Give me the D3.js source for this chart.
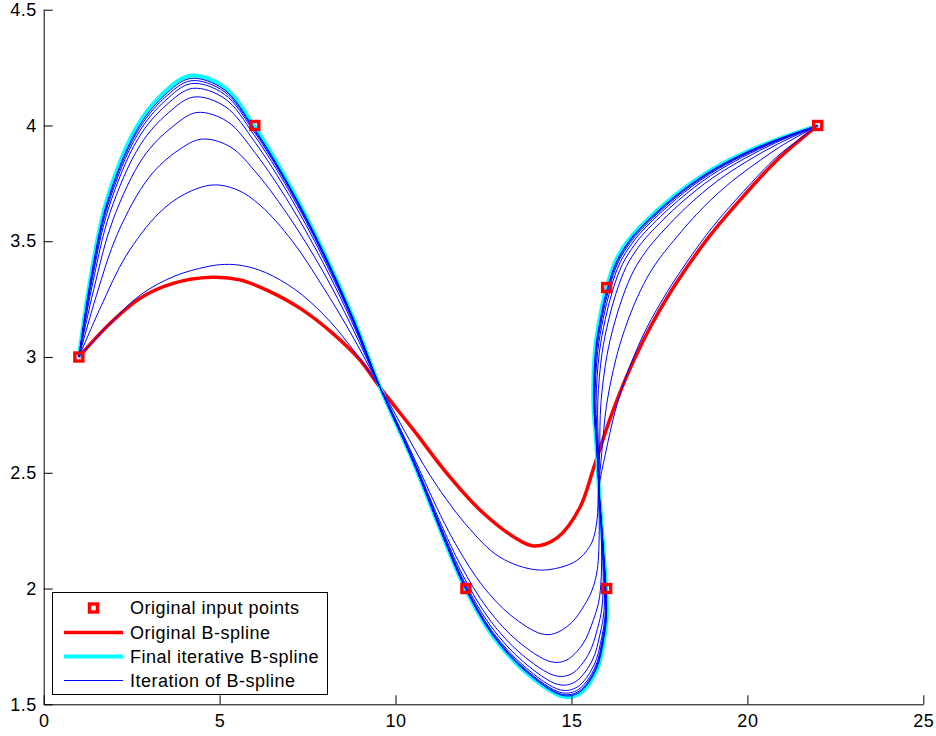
<!DOCTYPE html>
<html><head><meta charset="utf-8">
<script src="https://cdn.jsdelivr.net/npm/d3@7"></script>
<style>
body{margin:0;background:#fff}
svg{display:block}
text{font-family:"Liberation Sans",Arial,Helvetica,sans-serif}
</style>
</head><body>
<svg id="chart" width="936" height="736"></svg>
<script>
// ---------------- data ----------------
const inputX = [1, 6, 12, 16, 16, 22];
const inputY = [3, 4, 2, 2, 3.3, 4];

const xTicks = [0, 5, 10, 15, 20, 25];
const yTicks = [1.5, 2, 2.5, 3, 3.5, 4, 4.5];

const legendLabels = ["Original input points", "Original B-spline", "Final iterative B-spline", "Iteration of B-spline"];

const originalSpline = [[1,3],[1.79,3.131],[2.74,3.254],[3.68,3.318],[4.78,3.344],[5.58,3.333],[6.34,3.289],[7.29,3.21],[8.23,3.10],[8.99,2.987],[9.6,2.86],[10.51,2.685],[11.46,2.497],[12.40,2.339],[13.35,2.224],[13.92,2.184],[14.6,2.22],[15.24,2.35],[15.65,2.53],[16.1,2.735],[16.55,2.91],[17.04,3.07],[17.5,3.20],[17.99,3.322],[18.94,3.525],[19.89,3.695],[20.84,3.85],[22,4]];

const finalSpline = [[1,3],[1.316,3.328],[1.779,3.670],[2.624,3.989],[3.40,4.139],[4.16,4.215],[5.11,4.168],[5.97,4.0],[6.96,3.75],[7.925,3.464],[8.79,3.171],[9.57,2.865],[10.506,2.546],[11.455,2.184],[11.976,2.001],[12.78,1.792],[13.73,1.634],[14.761,1.533],[15.245,1.547],[15.719,1.648],[15.926,1.778],[16.003,1.878],[15.983,2.001],[15.89,2.209],[15.779,2.434],[15.717,2.598],[15.621,2.814],[15.669,3.030],[15.811,3.174],[15.999,3.300],[16.266,3.4185],[16.604,3.501],[16.928,3.559],[17.895,3.693],[18.844,3.796],[19.79,3.873],[20.737,3.934],[21.686,3.984],[22,4]];

const iter1 = [[1,3],[1.856,3.140],[2.746,3.268],[3.732,3.350],[4.64,3.39],[5.15,3.40],[5.67,3.394],[6.30,3.365],[7.15,3.291],[7.967,3.181],[8.67,3.056],[9.57,2.865],[10.269,2.6765],[10.979,2.4895],[11.974,2.2813],[12.969,2.1353],[14.021,2.0805],[14.817,2.0973],[15.243,2.1318],[15.584,2.201],[15.726,2.296],[15.779,2.434],[15.961,2.579],[16.25,2.77],[16.55,2.915],[17.04,3.095],[17.5,3.225],[17.99,3.345],[18.94,3.548],[19.89,3.715],[20.84,3.865],[21.5,3.943],[22,4]];

const iter2 = [[1,3],[1.63,3.219],[2.34,3.437],[3.267,3.62],[4.0,3.703],[4.8,3.743],[5.5,3.722],[6.157,3.655],[7.07,3.50],[7.949,3.30],[8.72,3.105],[9.57,2.865],[10.385,2.61],[11.267,2.32],[11.768,2.176],[12.483,2.01],[13.279,1.884],[14.131,1.805],[14.527,1.806],[15.006,1.853],[15.363,1.927],[15.586,1.993],[15.734,2.082],[15.79,2.249],[15.779,2.434],[15.863,2.588],[15.995,2.789],[16.258,2.988],[16.513,3.119],[16.797,3.232],[17.133,3.338],[17.456,3.416],[17.74,3.472],[18.55,3.615],[19.348,3.732],[20.129,3.824],[20.915,3.907],[21.733,3.978],[22,4]];

const iter3 = [[1,3],[1.497,3.265],[2.104,3.535],[2.996,3.776],[3.817,3.892],[4.493,3.941],[5.298,3.908],[6.074,3.790],[7.024,3.594],[7.939,3.369],[8.75,3.133],[9.57,2.865],[10.439,2.582],[11.351,2.259],[11.861,2.098],[12.616,1.913],[13.48,1.772],[14.413,1.684],[14.848,1.69],[15.325,1.761],[15.615,1.861],[15.772,1.941],[15.845,2.046],[15.847,2.231],[15.779,2.434],[15.801,2.592],[15.837,2.80],[16.008,3.006],[16.215,3.142],[16.459,3.261],[16.765,3.372],[17.095,3.452],[17.396,3.509],[18.273,3.648],[19.135,3.759],[19.985,3.845],[20.839,3.918],[21.713,3.98],[22,4]];

const iter4 = [[1,3],[1.421,3.291],[1.968,3.592],[2.840,3.865],[3.642,3.992],[4.353,4.056],[5.219,4.017],[6.026,3.878],[6.997,3.660],[7.933,3.409],[8.767,3.149],[9.57,2.865],[10.466,2.567],[11.393,2.229],[11.907,2.059],[12.682,1.864],[13.581,1.716],[14.553,1.623],[15.008,1.632],[15.484,1.716],[15.74,1.827],[15.865,1.916],[15.901,2.028],[15.865,2.222],[15.779,2.434],[15.766,2.595],[15.748,2.806],[15.869,3.016],[16.049,3.155],[16.27,3.277],[16.56,3.391],[16.893,3.472],[17.203,3.530],[18.117,3.666],[19.015,3.774],[19.905,3.856],[20.797,3.925],[21.702,3.982],[22,4]];

const iter5 = [[1,3],[1.377,3.307],[1.888,3.625],[2.749,3.917],[3.54,4.054],[4.272,4.123],[5.173,4.080],[5.998,3.929],[6.981,3.698],[7.93,3.432],[8.776,3.158],[9.57,2.865],[10.483,2.558],[11.419,2.21],[11.936,2.035],[12.723,1.834],[13.644,1.682],[14.64,1.585],[15.107,1.597],[15.583,1.687],[15.818,1.807],[15.923,1.9],[15.935,2.017],[15.875,2.217],[15.779,2.434],[15.748,2.596],[15.70,2.809],[15.794,3.021],[15.96,3.162],[16.168,3.286],[16.45,3.401],[16.785,3.483],[17.10,3.541],[18.034,3.676],[18.951,3.783],[19.862,3.863],[20.775,3.928],[21.696,3.983],[22,4]];

const iter6 = [[1,3],[1.352,3.315],[1.844,3.643],[2.698,3.947],[3.483,4.088],[4.226,4.160],[5.148,4.116],[5.983,3.958],[6.973,3.719],[7.928,3.445],[8.782,3.163],[9.57,2.865],[10.493,2.553],[11.435,2.199],[11.954,2.02],[12.748,1.815],[13.682,1.661],[14.694,1.562],[15.169,1.575],[15.643,1.67],[15.866,1.794],[15.959,1.89],[15.957,2.01],[15.882,2.213],[15.779,2.434],[15.736,2.597],[15.67,2.811],[15.747,3.024],[15.904,3.167],[16.105,3.291],[16.381,3.408],[16.717,3.49],[17.035,3.548],[17.982,3.683],[18.911,3.788],[19.835,3.867],[20.76,3.93],[21.692,3.983],[22,4]];

const iter7 = [[1,3],[1.339,3.320],[1.82,3.653],[2.671,3.962],[3.452,4.107],[4.202,4.181],[5.134,4.135],[5.974,3.974],[6.968,3.731],[7.927,3.452],[8.785,3.166],[9.57,2.865],[10.498,2.55],[11.443,2.193],[11.963,2.012],[12.761,1.806],[13.701,1.65],[14.721,1.55],[15.2,1.564],[15.674,1.661],[15.89,1.788],[15.976,1.885],[15.967,2.006],[15.885,2.212],[15.779,2.434],[15.729,2.597],[15.651,2.812],[15.717,3.027],[15.868,3.169],[16.064,3.294],[16.337,3.412],[16.673,3.494],[16.994,3.552],[17.948,3.687],[18.885,3.791],[19.818,3.869],[20.751,3.932],[21.69,3.983],[22,4]];

const iter8 = [[1,3],[1.331,3.323],[1.805,3.659],[2.654,3.972],[3.433,4.119],[4.187,4.193],[5.125,4.147],[5.969,3.983],[6.965,3.737],[7.926,3.456],[8.787,3.168],[9.57,2.865],[10.501,2.548],[11.448,2.189],[11.968,2.008],[12.769,1.80],[13.713,1.644],[14.737,1.543],[15.217,1.557],[15.692,1.656],[15.904,1.784],[15.987,1.882],[15.973,2.004],[15.887,2.211],[15.779,2.434],[15.724,2.597],[15.64,2.813],[15.699,3.028],[15.847,3.171],[16.04,3.297],[16.31,3.414],[16.647,3.497],[16.969,3.555],[17.928,3.689],[18.87,3.793],[19.807,3.871],[20.746,3.933],[21.688,3.984],[22,4]];

const iter9 = [[1,3],[1.324,3.325],[1.794,3.664],[2.641,3.979],[3.419,4.128],[4.175,4.203],[5.118,4.156],[5.965,3.991],[6.963,3.743],[7.926,3.460],[8.788,3.169],[9.57,2.865],[10.504,2.547],[11.451,2.187],[11.972,2.004],[12.774,1.796],[13.721,1.639],[14.749,1.538],[15.231,1.552],[15.705,1.652],[15.915,1.781],[15.995,1.88],[15.978,2.003],[15.888,2.21],[15.779,2.434],[15.721,2.598],[15.632,2.813],[15.686,3.029],[15.831,3.172],[16.022,3.298],[16.291,3.416],[16.629,3.499],[16.951,3.557],[17.914,3.691],[18.859,3.794],[19.8,3.872],[20.742,3.933],[21.687,3.984],[22,4]];

const iterations = [iter1, iter2, iter3, iter4, iter5, iter6, iter7, iter8, iter9];

// ---------------- drawing ----------------
const svg = d3.select("#chart");
const x = d3.scaleLinear().domain([0, 25]).range([43.7, 923.3]);
const y = d3.scaleLinear().domain([1.5, 4.5]).range([704.3, 9.7]);

const line = d3.line()
  .x(d => x(d[0]))
  .y(d => y(d[1]))
  .curve(d3.curveCatmullRom.alpha(0.5));

const plot = svg.append("g");

plot.append("path").datum(originalSpline)
  .attr("d", line).attr("fill", "none")
  .attr("stroke", "#ff0000").attr("stroke-width", 3.5)
  .attr("stroke-linejoin", "round");

plot.append("path").datum(finalSpline)
  .attr("d", line).attr("fill", "none")
  .attr("stroke", "#00ffff").attr("stroke-width", 4)
  .attr("stroke-linejoin", "round");

plot.selectAll("path.iter").data(iterations).enter()
  .append("path").attr("class", "iter")
  .attr("d", line).attr("fill", "none")
  .attr("stroke", "#0000ff").attr("stroke-width", 1);

const pts = inputX.map((v, i) => [v, inputY[i]]);
plot.selectAll("rect.pt").data(pts).enter()
  .append("rect").attr("class", "pt")
  .attr("x", d => x(d[0]) - 4).attr("y", d => y(d[1]) - 4)
  .attr("width", 8).attr("height", 8)
  .attr("fill", "none").attr("stroke", "#ff0000").attr("stroke-width", 3.4);

// axes
const fontSize = 18;
const xAxis = d3.axisBottom(x).tickValues(xTicks).tickFormat(d => String(d))
  .tickSizeInner(-9).tickSizeOuter(0).tickPadding(10);
const yAxis = d3.axisLeft(y).tickValues(yTicks).tickFormat(d => String(d))
  .tickSizeInner(-9).tickSizeOuter(0).tickPadding(7);

const gx = svg.append("g").attr("transform", `translate(0,${y(1.5)})`).call(xAxis);
const gy = svg.append("g").attr("transform", `translate(${x(0)},0)`).call(yAxis);
[gx, gy].forEach(g => {
  g.selectAll("path.domain").attr("stroke", "#000").attr("stroke-width", 1);
  g.selectAll(".tick line").attr("stroke", "#000").attr("stroke-width", 1);
  g.selectAll(".tick text").attr("fill", "#000")
    .style("font-size", fontSize + "px")
    .style("letter-spacing", "0.5px")
    .style("font-family", '"Liberation Sans", Arial, Helvetica, sans-serif');
});

// legend
const lg = svg.append("g");
lg.append("rect").attr("x", 52.5).attr("y", 592.5).attr("width", 275).attr("height", 102)
  .attr("fill", "#fff").attr("stroke", "#000").attr("stroke-width", 1);
const rowY = [608, 632.5, 656.5, 680.5];
const styles = [
  {type: "marker"},
  {type: "line", color: "#ff0000", w: 3.5},
  {type: "line", color: "#00ffff", w: 4},
  {type: "line", color: "#0000ff", w: 1}
];
legendLabels.forEach((lab, i) => {
  const s = styles[i];
  if (s.type === "marker") {
    lg.append("rect").attr("x", 93.5 - 4).attr("y", rowY[i] - 4)
      .attr("width", 8).attr("height", 8)
      .attr("fill", "none").attr("stroke", "#ff0000").attr("stroke-width", 3.4);
  } else {
    lg.append("line").attr("x1", 64).attr("x2", 123)
      .attr("y1", rowY[i]).attr("y2", rowY[i])
      .attr("stroke", s.color).attr("stroke-width", s.w);
  }
  lg.append("text").attr("x", 130).attr("y", rowY[i])
    .attr("dominant-baseline", "central")
    .style("font-size", fontSize + "px")
    .style("letter-spacing", "0.5px")
    .attr("fill", "#000").text(lab);
});
</script>
</body></html>
